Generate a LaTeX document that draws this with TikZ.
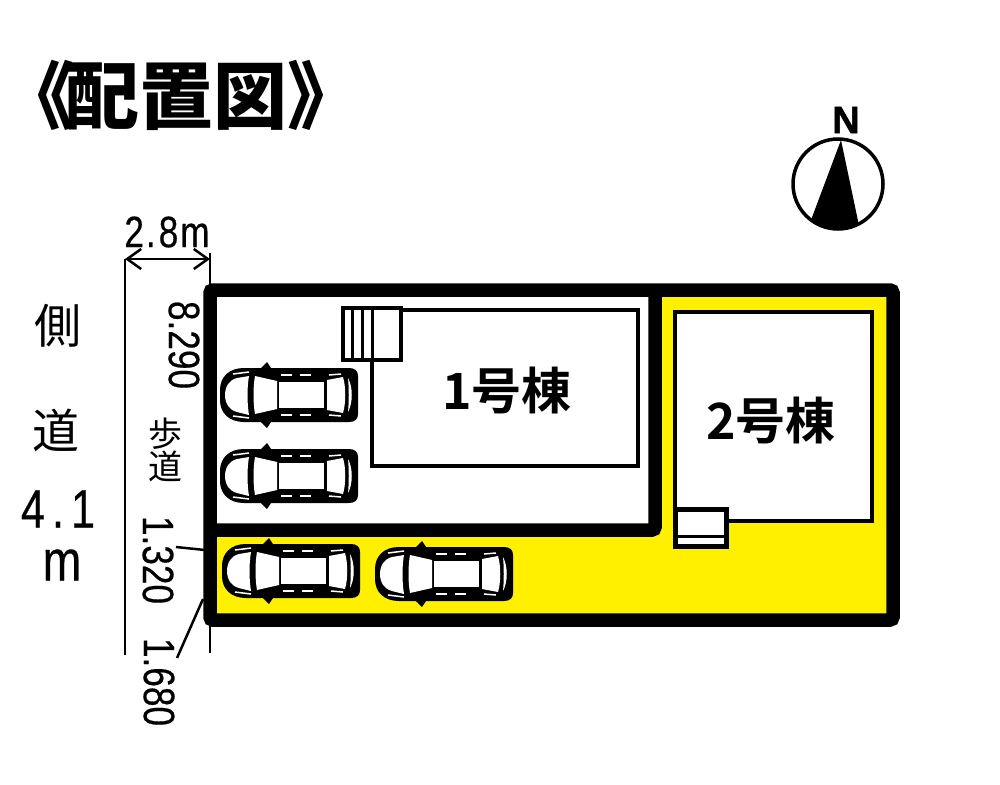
\documentclass[tikz,border=0pt]{standalone}
\usepackage{fontspec}
\usetikzlibrary{arrows.meta}
\newfontfamily\jpfont{Noto Sans CJK JP}
\newfontfamily\jpbold{Noto Sans CJK JP Bold}
\newfontfamily\jpblack{Noto Sans CJK JP Black}
\newfontfamily\dimfont[FakeStretch=.8, FakeBold=.4]{Liberation Sans}
\newfontfamily\northfont[FakeBold=1.5]{Liberation Sans Bold}
\definecolor{lotyellow}{RGB}{255,240,0}
\tikzset{
    wall/.style={draw=black, line width=13.5pt, rounded corners=3pt},
    house/.style={draw=black, line width=4pt, fill=white},
    thinline/.style={draw=black, line width=2.5pt},
    dimlabel/.style={inner sep=0pt, rotate=-90, font=\dimfont\fontsize{44}{44}\selectfont},
    sidelabel/.style={inner sep=0pt, font=\jpfont\fontsize{47}{47}\selectfont},
    houselabel/.style={inner sep=0pt, font=\jpbold\fontsize{50}{50}\selectfont},
    car/.pic={
        \fill[black] (-45,-27) -- (60,-27) .. controls (66,-27) and (69,-24) .. (69,-19) -- (69,19)
            .. controls (69,24) and (66,27) .. (60,27) -- (-45,27) .. controls (-60,27) and (-69,18) .. (-69,5)
            -- (-69,-5) .. controls (-69,-18) and (-60,-27) .. (-45,-27) -- cycle;
        \fill[black] (-28,-27) -- (-22,-33) -- (-18,-27) -- cycle (-28,27) -- (-22,33) -- (-18,27) -- cycle;
        \fill[white] (-40,-19) -- (-52,-17) .. controls (-60,-15) and (-64,-8) .. (-64,0)
            .. controls (-64,8) and (-60,15) .. (-52,17) -- (-40,20) .. controls (-42,8) and (-42,-8) .. (-40,-19) -- cycle;
        \fill[white] (-34,-19) -- (-12,-14) -- (-12,14) -- (-34,19) .. controls (-36,8) and (-36,-8) .. (-34,-19) -- cycle;
        \fill[white] (-10,-13) rectangle (35,13);
        \fill[white] (38,-15) -- (54,-18) .. controls (57,-8) and (57,8) .. (54,18) -- (38,15) -- cycle;
        \fill[white] (59,-17) .. controls (64,-8) and (64,8) .. (59,17) .. controls (60,8) and (60,-8) .. (59,-17) -- cycle;
        \foreach \ypos in {-1,1} {
            \draw[white, line width=1.5pt] (-56,\ypos*21) -- (-40,\ypos*23);
            \draw[white, line width=1.5pt] (-8,\ypos*20) -- (3,\ypos*20);
            \draw[white, line width=1.5pt] (11,\ypos*20) -- (22,\ypos*20);
            \draw[white, line width=1.5pt] (40,\ypos*20) -- (52,\ypos*21);
        }
    }
}

\begin{document}
\begin{tikzpicture}[x=1pt, y=-1pt]
    \useasboundingbox[fill=white] (0,0) rectangle (1000,784);

    % title
    \node[inner sep=0pt, font=\jpblack\fontsize{74}{74}\selectfont] (title) at (181,95) {《\kern-10pt 配置図》};

    % north mark
    \node[inner sep=0pt, font=\northfont\fontsize{38}{38}\selectfont] (north) at (846,120) {N};
    \begin{scope}
        \clip (838,184) circle (45);
        \fill[black] (841,140) -- (805,236) -- (862,240) -- cycle;
    \end{scope}
    \draw[line width=3.5pt] (838,184) circle (45);

    % lot
    \fill[lotyellow] (210,290) rectangle (893,620);
    \fill[white] (210,290) rectangle (655,530);
    \draw[wall] (210,290) rectangle (893,620);
    \draw[wall] (210,530) -- (655,530) -- (655,290);

    % house 1
    \draw[house] (372,310) rectangle (638,466);
    \draw[house, line width=3.5pt] (343,308) rectangle (401,360);
    \foreach \xpos in {352,362,372} {
        \draw[line width=3pt] (\xpos,308) -- (\xpos,360);
    }
    \node[houselabel] (house1) at (507,390) {1号棟};

    % house 2
    \draw[house] (675,312) rectangle (872,521);
    \draw[house, line width=5pt] (675,509) rectangle (726,546);
    \draw[line width=3pt] (675,536) -- (726,536);
    \node[houselabel] (house2) at (771,420) {2号棟};

    % cars
    \pic at (289,395) {car};
    \pic at (289,476) {car};
    \pic at (291,571) {car};
    \pic at (444,574) {car};

    % road
    \coordinate (walkL) at (125,259);
    \coordinate (walkR) at (210,259);
    \coordinate (walkLend) at (125,655);
    \coordinate (walkRtop) at (210,253);
    \coordinate (walkRa) at (210,285);
    \coordinate (walkRb) at (210,625);
    \coordinate (walkRend) at (210,653);
    \draw[thinline] (walkL) -- (walkLend);
    \draw[thinline] (walkRtop) -- (walkRa);
    \draw[thinline] (walkRb) -- (walkRend);
    \draw[thinline, {Straight Barb[length=14pt, width=20pt]}-{Straight Barb[length=14pt, width=20pt]}] (walkL) -- (walkR);

    \node[inner sep=0pt, font=\dimfont\fontsize{44}{44}\selectfont] (width) at (167,232) {2\hspace{2pt}.\hspace{3pt}8\hspace{2pt}m};
    \node[dimlabel] (dima) at (184,345) {8.290};
    \node[dimlabel] (dimb) at (158,560) {1.320};
    \node[dimlabel] (dimc) at (159,682) {1.680};

    \coordinate (leadA) at (176,547);
    \coordinate (leadAend) at (205,550);
    \coordinate (leadB) at (177,658);
    \coordinate (leadBend) at (203,599);
    \draw[thinline] (leadA) -- (leadAend);
    \draw[thinline] (leadB) -- (leadBend);

    \node[inner sep=0pt, font=\jpfont\fontsize{34}{34}\selectfont, align=center] (walk) at (165,450) {歩\\[-1pt]道};

    \node[sidelabel] (sideA) at (58,326) {側};
    \node[sidelabel] (sideB) at (56,430) {道};
    \node[inner sep=0pt, font=\dimfont\fontsize{54}{54}\selectfont] (sideC) at (58,509) {4\hspace{7pt}.\hspace{7pt}1};
    \node[inner sep=0pt, font=\dimfont\fontsize{58}{58}\selectfont] (sideD) at (62,565) {m};
\end{tikzpicture}
\end{document}
